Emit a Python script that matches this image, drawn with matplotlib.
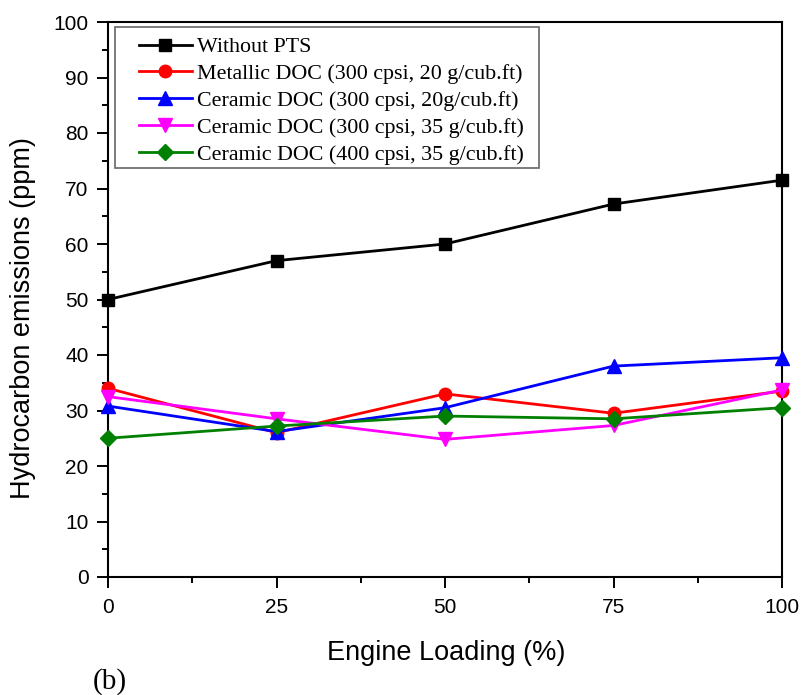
import matplotlib.pyplot as plt
import matplotlib.transforms as mtransforms
from matplotlib.patches import Rectangle
from matplotlib.ticker import MultipleLocator

# data
engine_loading = [0, 25, 50, 75, 100]
without_pts = [50, 57, 60, 67.2, 71.5]
metallic_300_20 = [34, 26, 33, 29.5, 33.5]
ceramic_300_20 = [30.8, 26.2, 30.5, 38, 39.5]
ceramic_300_35 = [32.5, 28.5, 24.8, 27.3, 33.7]
ceramic_400_35 = [25, 27.2, 29, 28.5, 30.5]

series_labels = ['Without PTS',
                 'Metallic DOC (300 cpsi, 20 g/cub.ft)',
                 'Ceramic DOC (300 cpsi, 20g/cub.ft)',
                 'Ceramic DOC (300 cpsi, 35 g/cub.ft)',
                 'Ceramic DOC (400 cpsi, 35 g/cub.ft)']

sans = 'Liberation Sans'
serif = 'Liberation Serif'
W, H = 806, 695

fig = plt.figure(figsize=(W / 100, H / 100), dpi=100)
ax = fig.add_axes([108 / W, 1 - 577 / H, 674 / W, 555 / H])

series = [without_pts, metallic_300_20, ceramic_300_20, ceramic_300_35, ceramic_400_35]
colors = ['black', 'red', 'blue', 'magenta', 'green']
markers = ['s', 'o', '^', 'v', 'D']
sizes = [8.5, 9, 9.5, 9.5, 8.5]
for vals, c, m, s, lab in zip(series, colors, markers, sizes, series_labels):
    ax.plot(engine_loading, vals, color=c, marker=m, markersize=s, linewidth=2,
            label=lab, clip_on=False, zorder=3)

ax.set_xlim(0, 100)
ax.set_ylim(0, 100)
ax.xaxis.set_major_locator(MultipleLocator(25))
ax.xaxis.set_minor_locator(MultipleLocator(12.5))
ax.yaxis.set_major_locator(MultipleLocator(10))
ax.yaxis.set_minor_locator(MultipleLocator(5))
ax.tick_params(which='major', direction='out', length=8, width=1.4, labelsize=15)
ax.tick_params(which='minor', direction='out', length=4.5, width=1.4)
ax.tick_params(axis='x', pad=7)
ax.tick_params(axis='y', pad=6)
for lbl in ax.get_xticklabels() + ax.get_yticklabels():
    lbl.set_fontfamily(sans)
for sp in ax.spines.values():
    sp.set_linewidth(1.5)

fig.text(446 / W, 1 - 653 / H, 'Engine Loading (%)', fontsize=19.5, fontfamily=sans,
         ha='center', va='center')
fig.text(23 / W, 1 - 318 / H, 'Hydrocarbon emissions (ppm)', fontsize=19.5,
         fontfamily=sans, rotation=90, ha='center', va='center')

leg = ax.legend(loc='upper left', bbox_to_anchor=(129 / W, 1 - 27 / H),
                bbox_transform=fig.transFigure, borderaxespad=0, frameon=False,
                prop={'family': serif, 'size': 15.8}, labelspacing=0.3,
                handlelength=2.4, borderpad=0.45, handletextpad=0.27)

# frame with extra room on the left, like the original
fig.canvas.draw()
bb = leg.get_window_extent(fig.canvas.get_renderer())
fig.add_artist(Rectangle((bb.x0 - 14, bb.y0 + 7), bb.width + 19, bb.height - 7,
                         transform=mtransforms.IdentityTransform(),
                         fill=False, edgecolor='#666666', linewidth=1.2))

fig.text(93 / W, 1 - 682 / H, '(b)', fontsize=21, fontfamily=serif, va='center')

fig.savefig('out.png', dpi=100)
